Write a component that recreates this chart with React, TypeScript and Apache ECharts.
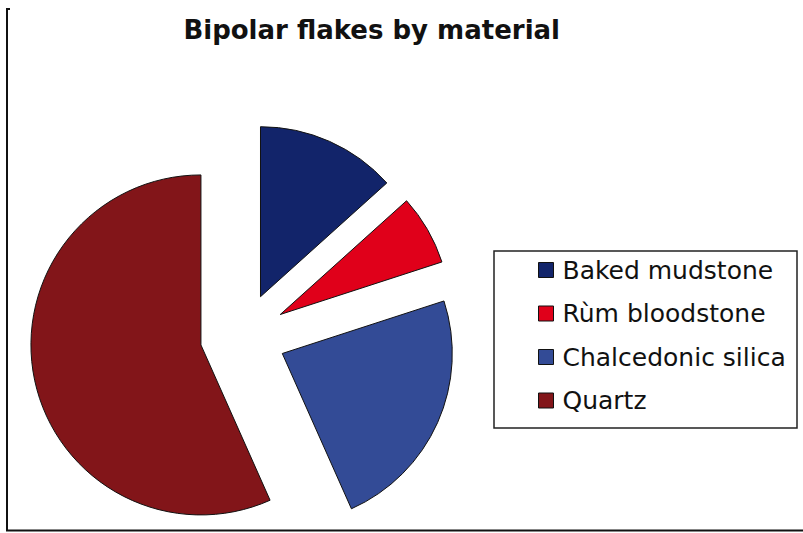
import React, { useEffect, useRef } from "react";
import * as echarts from "echarts";

const materials = ["Baked mudstone", "Rùm bloodstone", "Chalcedonic silica", "Quartz"];
const flakeCounts = [8, 4, 14, 34];
const sliceColors = ["#12246a", "#e0001a", "#334b96", "#821519"];
const chartTitle = "Bipolar flakes by material";

export default function App() {
  const ref = useRef<HTMLDivElement>(null);

  useEffect(() => {
    if (!ref.current) return;
    const chart = echarts.init(ref.current, undefined, { renderer: "svg" });

    const data = materials.map((name, i) => ({
      name,
      value: flakeCounts[i],
      selected: true,
      itemStyle: { color: sliceColors[i] },
    }));

    chart.setOption({
      animation: false,
      backgroundColor: "#ffffff",
      color: sliceColors,
      legend: {
        orient: "vertical",
        left: 538,
        top: 257.5,
        padding: 0,
        itemWidth: 15,
        itemHeight: 15,
        itemGap: 18.5,
        icon: "rect",
        selectedMode: false,
        itemStyle: { borderColor: "#111111", borderWidth: 1 },
        textStyle: {
          fontFamily: "DejaVu Sans",
          fontSize: 25,
          lineHeight: 25,
          color: "#111111",
          padding: [0, 0, 0, 4],
        },
        data: materials,
      },
      graphic: [
        {
          type: "text",
          x: 371.7,
          y: 29.5,
          style: {
            text: chartTitle,
            x: 0,
            y: 0,
            fontFamily: "DejaVu Sans",
            fontWeight: "bold",
            fontSize: 26,
            fill: "#111111",
            align: "center",
            verticalAlign: "middle",
          },
        },
        {
          type: "rect",
          shape: { x: 494, y: 251, width: 303, height: 177 },
          style: { fill: "none", stroke: "#222222", lineWidth: 1.5 },
          z: -1,
        },
        {
          type: "polyline",
          shape: { points: [[10, 9], [7, 9], [7, 530.5], [803, 530.5]] },
          style: { fill: "none", stroke: "#111111", lineWidth: 2 },
        },
      ],
      series: [
        {
          type: "pie",
          center: [243, 336],
          radius: [0, 170],
          startAngle: 90,
          clockwise: true,
          selectedMode: "multiple",
          selectedOffset: 43,
          avoidLabelOverlap: false,
          label: { show: false },
          labelLine: { show: false },
          itemStyle: { borderColor: "#111111", borderWidth: 1 },
          emphasis: { disabled: true },
          data,
        },
      ],
    });

    return () => chart.dispose();
  }, []);

  return (
    <div
      ref={ref}
      style={{ position: "absolute", left: 0, top: 0, width: 803, height: 533 }}
    />
  );
}
